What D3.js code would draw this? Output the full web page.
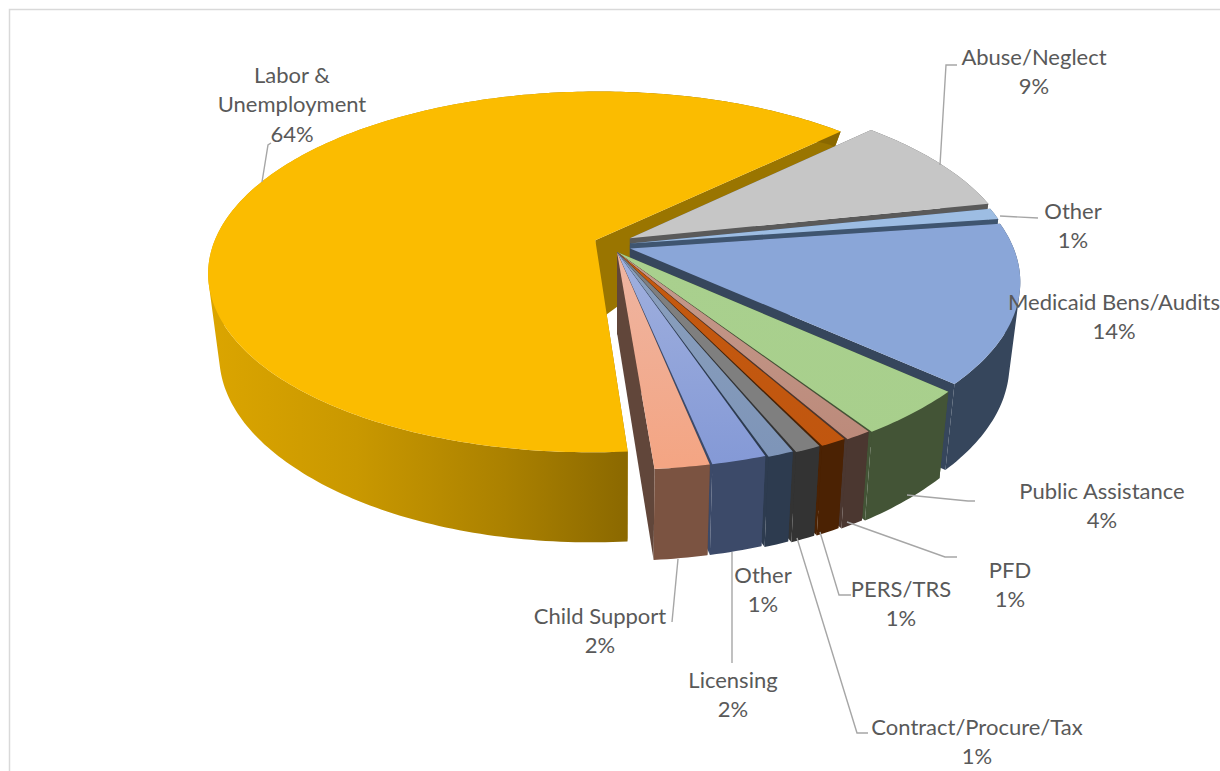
<!DOCTYPE html>
<html>
<head>
<meta charset="utf-8">
<style>
  html, body { margin: 0; padding: 0; background: #fff; overflow: hidden; }
  text { font-family: Lato, "Open Sans", sans-serif; font-size: 22px; fill: #595959; }
</style>
<script src="https://cdn.jsdelivr.net/npm/d3@7/dist/d3.min.js"></script>
</head>
<body>
<svg id="chart" width="1220" height="771"></svg>
<script>
// Case categories, clockwise from the upper right, and their share in percent.
const categories = ["Abuse/Neglect", "Other", "Medicaid Bens/Audits", "Public Assistance", "PFD",
  "PERS/TRS", "Contract/Procure/Tax", "Other", "Licensing", "Child Support", "Labor & Unemployment"];
const shares = [9, 1, 14, 4, 1, 1, 1, 1, 2, 2, 64];

// Slice colours: lit top face (two stops) and shaded wall.
const topColors = [["#c6c6c6", "#c4c4c4"], ["#9dbde3", "#a9c6e8"], ["#8aa6d8", "#8aa6d8"], ["#a9d08e", "#a8cf8c"],
  ["#c49a8c", "#bb8878"], ["#c5590f", "#c0560f"], ["#7f7f7f", "#7f7f7f"], ["#8ba0bd", "#7d94b8"],
  ["#a0b0de", "#8499d6"], ["#eeb5a2", "#f4a583"], ["#fbbc00", "#fbbc00"]];
const wallColors = ["#5a5a5a", "#3f5570", "#36465c", "#435436", "#4b3730", "#4b2203", "#333333", "#2d3b4f",
  "#3c4a69", "#7b5341", "#8f6c00"];
const sideColors = ["#5a5a5a", "#3f5570", "#36465c", "#435436", "#4b3730", "#4b2203", "#333333", "#2d3b4f",
  "#3c4a69", "#61463a", "#9a7500"];

// How far each slice is pulled out of the pie, in units of the pie radius.
const pullOut = [[0.034, -0.078], [0.034, -0.048], [0.034, -0.02], [0, 0], [0, 0], [0, 0], [0, 0], [0, 0], [0, 0], [0, 0], [-0.057, -0.067]];
// Rim reach of each slice relative to the pie radius.
const rimReach = [1, 1, 1, 1.02, 1.016, 1.012, 1.01, 1.005, 1, 1, 1];

// Label text blocks: centre x, centre y of the first line, and wrapped lines.
const labelBlocks = [
  [1034, 57, ["Abuse/Neglect"]], [1073, 211, ["Other"]], [1114, 302, ["Medicaid Bens/Audits"]],
  [1102, 491, ["Public Assistance"]], [1010, 570, ["PFD"]], [901, 589, ["PERS/TRS"]],
  [977, 727, ["Contract/Procure/Tax"]], [763, 575, ["Other"]], [733, 680, ["Licensing"]],
  [600, 616, ["Child Support"]], [292, 75, ["Labor &", "Unemployment"]]
];

// Leader lines running from the labels to their slices.
const leaders = [
  [[940, 165], [946, 65], [957, 65]],
  [[1000, 216], [1038, 218]],
  [[907, 495], [968, 501], [975, 501]],
  [[847, 522], [945, 557], [957, 557]],
  [[820, 532], [839, 595], [851, 595]],
  [[797, 538], [857, 733], [868, 733]],
  [[732, 552], [732, 663]],
  [[678, 559], [672, 622]],
  [[262, 182], [268, 145], [271, 143]]
];

// Perspective of the disc.
const cx = 617, cy = 252, R = 385, Ry = 179, persp = 0.178;
const project = (u, v) => {
  const w = 1 - persp * v;
  return [cx + R * u / w, cy + Ry * v / w];
};
// The underside of the disc sits slightly narrower and lower on the page.
const baseX = x => 620 + (x - 620) * 0.973;
const baseY = d3.scaleLinear().domain([80, 130, 240, 252, 382, 468]).range([110, 145, 322, 333, 468, 559]);
const drop = p => [baseX(p[0]), baseY(p[1])];

const svg = d3.select("#chart");
const defs = svg.append("defs");

// Frame around the chart area.
svg.append("path").attr("d", "M9.5,771V9.5H1220").attr("fill", "none").attr("stroke", "#d9d9d9").attr("stroke-width", 1.5);

const startAt = (90 - 44.2) * Math.PI / 180;
const arcs = d3.pie().sort(null).startAngle(startAt).endAngle(startAt + 2 * Math.PI)(shares);
const lineOf = d3.line();
const closed = pts => lineOf(pts) + "Z";
const gap = 0.32 * Math.PI / 180;

// Vertical-falloff gradient for the lit faces.
topColors.forEach((c, i) => {
  const g = defs.append("linearGradient").attr("id", "top" + i).attr("gradientUnits", "userSpaceOnUse")
    .attr("x1", 0).attr("x2", 0).attr("y1", 255).attr("y2", 465);
  g.append("stop").attr("offset", 0).attr("stop-color", c[0]);
  g.append("stop").attr("offset", 1).attr("stop-color", c[1]);
});
// The large slice's outer wall darkens from left to right.
const wallGrad = defs.append("linearGradient").attr("id", "laborWall").attr("gradientUnits", "userSpaceOnUse")
  .attr("x1", 210).attr("x2", 630).attr("y1", 0).attr("y2", 0);
[[0, "#dba500"], [0.35, "#c99800"], [0.7, "#ab8100"], [1, "#8a6800"]].forEach(s =>
  wallGrad.append("stop").attr("offset", s[0]).attr("stop-color", s[1]));

// Paint the largest slice first, then the rest from back to front.
const paintOrder = [10, 0, 1, 2, 3, 4, 5, 6, 7, 8, 9];
const layer = svg.append("g");

// One wall quad, wound the same way round as all the others so that
// overlapping quads in a single path never cancel each other out.
const wallQuad = ([p, q]) => {
  const quad = [p, q, drop(q), drop(p)];
  return closed(d3.polygonArea(quad) < 0 ? quad.reverse() : quad);
};

paintOrder.forEach(i => {
  const a = arcs[i];
  const [du, dv] = pullOut[i];
  const t0 = a.startAngle - Math.PI / 2 + (i >= 4 && i <= 9 ? gap : 0);
  const t1 = a.endAngle - Math.PI / 2;
  const steps = Math.max(4, Math.ceil((t1 - t0) * 60));
  const rim = d3.range(steps + 1).map(k => {
    const t = t0 + (t1 - t0) * k / steps;
    return project(du + rimReach[i] * Math.cos(t), dv + rimReach[i] * Math.sin(t));
  });
  const apex = project(du, dv);
  const g = layer.append("g");
  const last = rim[rim.length - 1];

  // radial cut faces
  g.append("path").attr("d", closed([apex, rim[0], drop(rim[0]), drop(apex)])).attr("fill", sideColors[i]);
  g.append("path").attr("d", closed([apex, last, drop(last), drop(apex)])).attr("fill", sideColors[i]);
  // outer wall, swept around the rim as one path
  g.append("path").attr("d", d3.pairs(rim).map(wallQuad).join(""))
    .attr("fill", i === 10 ? "url(#laborWall)" : wallColors[i]);
  // top face
  g.append("path").attr("d", closed([apex].concat(rim))).attr("fill", `url(#top${i})`);
});

// Leader lines
svg.append("g").selectAll("path").data(leaders).join("path")
  .attr("d", d => lineOf(d)).attr("fill", "none").attr("stroke", "#a6a6a6").attr("stroke-width", 1.4);

// Data labels: category lines followed by the percentage.
const lineStep = 29.5;
const labels = svg.append("g").attr("text-anchor", "middle");
labelBlocks.forEach((b, i) => {
  const lines = b[2].concat([shares[i] + "%"]);
  lines.forEach((txt, k) => {
    labels.append("text").attr("x", b[0]).attr("y", b[1] + k * lineStep)
      .attr("dy", "0.35em").text(txt);
  });
});
</script>
</body>
</html>
